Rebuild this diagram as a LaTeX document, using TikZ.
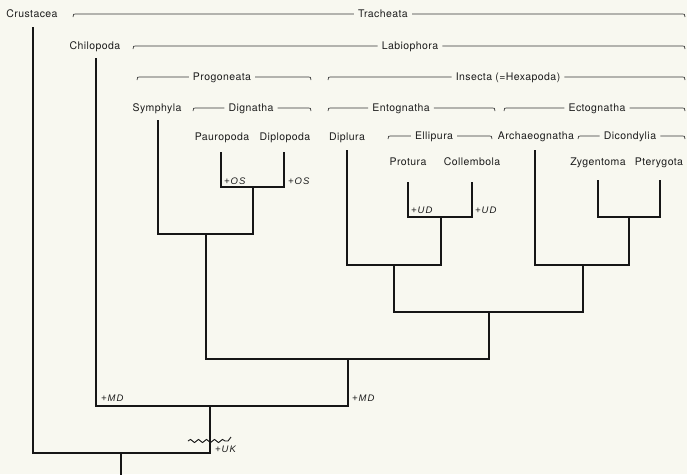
\documentclass[tikz,border=0pt]{standalone}
\usepackage{fontspec}
\setmainfont{TeX Gyre Heros}
\newfontfamily\labfont[LetterSpace=4]{TeX Gyre Heros}
\newfontfamily\annfont[LetterSpace=10]{Liberation Sans}
\usetikzlibrary{decorations.pathmorphing}
\definecolor{bg}{RGB}{248,248,240}
\definecolor{ink}{RGB}{22,22,22}
\definecolor{txt}{RGB}{28,28,28}
\definecolor{brkc}{RGB}{55,55,55}
\tikzset{
  taxon/.style={font=\labfont\fontsize{10.5}{12}\selectfont, text=txt, inner sep=0pt, text height=7pt, text depth=0pt},
  grp/.style={taxon},
  ann/.style={font=\annfont\itshape\fontsize{9.5}{11}\selectfont, text=txt, inner sep=0pt, text height=6.5pt, text depth=0pt, anchor=west},
  tree/.style={draw=ink, line width=1.5pt, line join=miter},
  brk/.style={draw=brkc, line width=0.7pt},
  wave/.style={draw=ink, line width=0.9pt, decorate, decoration={snake, segment length=8pt, amplitude=1.6pt}}
}
% name, x-left, x-right, y, x-centre, text
\newcommand\grpbracket[6]{%
  \node[grp] (#1) at (#5,#4) {#6};
  \draw[brk] (#2,#4+3) .. controls (#2,#4) .. (#2+5,#4) -- ([xshift=-4pt]#1.west);
  \draw[brk] ([xshift=4pt]#1.east) -- (#3-5,#4) .. controls (#3,#4) .. (#3,#4+3);
}
\begin{document}
\begin{tikzpicture}[x=1pt,y=-1pt]
\fill[bg] (0,0) rectangle (687,474);
\useasboundingbox (0,0) rectangle (687,474);

% group brackets
\grpbracket{tra}{73}{685}{14}{383}{Tracheata}
\grpbracket{lab}{133}{685}{46}{410}{Labiophora}
\grpbracket{prog}{137}{311}{77}{222}{Progoneata}
\grpbracket{ins}{328}{685}{77}{508}{Insecta (=Hexapoda)}
\grpbracket{dig}{193}{311}{108}{251}{Dignatha}
\grpbracket{ento}{328}{495}{108}{401}{Entognatha}
\grpbracket{ecto}{504}{685}{108}{597}{Ectognatha}
\grpbracket{ell}{388}{492}{136}{434}{Ellipura}
\grpbracket{dic}{578}{685}{136}{630}{Dicondylia}

% taxa
\node[taxon] (crus) at (32,14) {Crustacea};
\node[taxon] (chil) at (95,46) {Chilopoda};
\node[taxon] (sym) at (157,108) {Symphyla};
\node[taxon] (pau) at (222,137) {Pauropoda};
\node[taxon] (dip) at (285,137) {Diplopoda};
\node[taxon] (diplu) at (347,137) {Diplura};
\node[taxon] (arch) at (536,136) {Archaeognatha};
\node[taxon] (prot) at (408,162) {Protura};
\node[taxon] (coll) at (472,162) {Collembola};
\node[taxon] (zyg) at (598,162) {Zygentoma};
\node[taxon] (pter) at (659,162) {Pterygota};

% stem tops
\coordinate (crusT) at (33,27);
\coordinate (chilT) at (96,58);
\coordinate (symT) at (158,120);
\coordinate (pauT) at (221,152);
\coordinate (dipT) at (284,152);
\coordinate (dipluT) at (347,150);
\coordinate (archT) at (535,150);
\coordinate (protT) at (408,182);
\coordinate (collT) at (472,182);
\coordinate (zygT) at (598,180);
\coordinate (pterT) at (660,180);

% internal junctions
\coordinate (digB) at (253,187);
\coordinate (progB) at (206,234);
\coordinate (ellB) at (441,217);
\coordinate (entoB) at (394,265);
\coordinate (dicB) at (629,217);
\coordinate (ectoB) at (583,265);
\coordinate (insB) at (489,312);
\coordinate (labB) at (348,359);
\coordinate (traB) at (210,406);
\coordinate (rootB) at (121,453);
\coordinate (rootE) at (121,478);

% tree
\draw[tree] (pauT) |- (digB) -| (dipT);
\draw[tree] (symT) |- (progB) -| (digB);
\draw[tree] (protT) |- (ellB) -| (collT);
\draw[tree] (dipluT) |- (entoB) -| (ellB);
\draw[tree] (zygT) |- (dicB) -| (pterT);
\draw[tree] (archT) |- (ectoB) -| (dicB);
\draw[tree] (entoB) |- (insB) -| (ectoB);
\draw[tree] (progB) |- (labB) -| (insB);
\draw[tree] (chilT) |- (traB) -| (labB);
\draw[tree] (crusT) |- (rootB) -| (traB);
\draw[tree] (rootB) -- (rootE);

% wavy mark
\coordinate (wa) at (188,441);
\coordinate (wb) at (228,441);
\coordinate (wc) at (231,437);
\draw[wave] (wa) -- (wb);
\draw[draw=ink, line width=0.9pt] (wb) -- (wc);

% annotations
\node[ann] (os1) at (224,181) {+OS};
\node[ann] (os2) at (288,181) {+OS};
\node[ann] (ud1) at (411,210) {+UD};
\node[ann] (ud2) at (475,210) {+UD};
\node[ann] (md1) at (101,398) {+MD};
\node[ann] (md2) at (352,398) {+MD};
\node[ann] (uk) at (215,449) {+UK};
\end{tikzpicture}
\end{document}
